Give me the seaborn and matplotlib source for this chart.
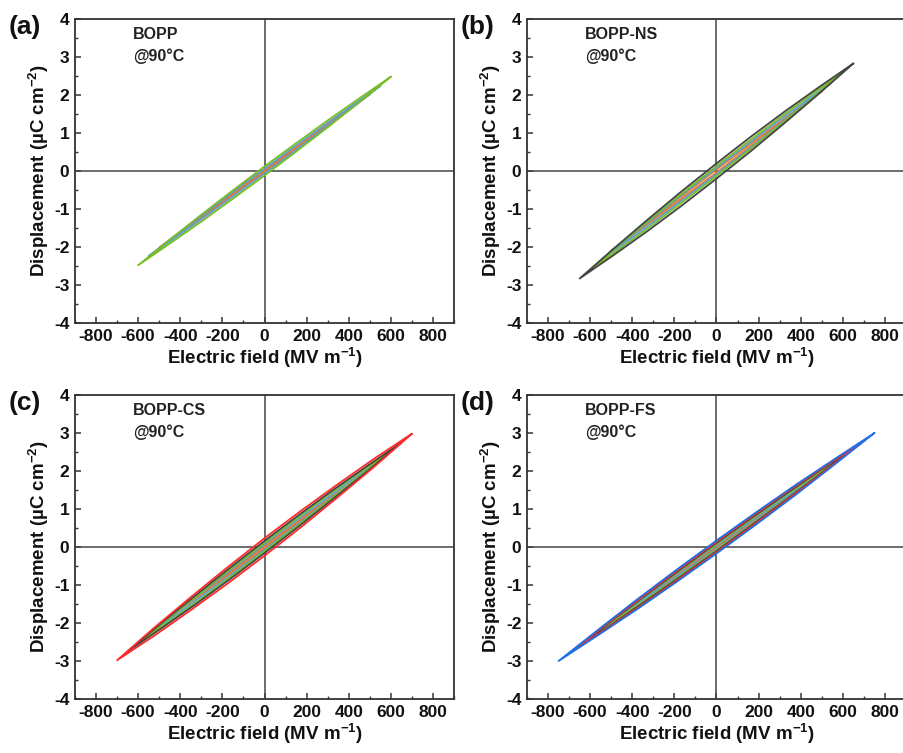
import numpy as np
import pandas as pd
import matplotlib
matplotlib.use("Agg")
import matplotlib.pyplot as plt
import seaborn as sns

# ---------------- data ----------------
# sampling positions along each loop, as fraction of the loop's max field
E_FRAC = [-1.0, -0.75, -0.5, -0.25, 0.0, 0.25, 0.5, 0.75, 1.0]

# upper branch D (uC cm^-2) at E = E_FRAC * Emax ; lower branch is point-symmetric
a_emax = [500, 550, 600]
a_colors = ["orange", "lightblue", "green"]
a_up = [
    [-2.02, -1.50, -0.99, -0.48, 0.03, 0.53, 1.03, 1.53, 2.02],
    [-2.24, -1.65, -1.08, -0.50, 0.06, 0.62, 1.17, 1.71, 2.24],
    [-2.48, -1.81, -1.15, -0.51, 0.12, 0.73, 1.33, 1.91, 2.48],
]

b_emax = [500, 550, 600, 650]
b_colors = ["orange", "lightblue", "green", "gray"]
b_up = [
    [-2.10, -1.56, -1.02, -0.49, 0.04, 0.56, 1.08, 1.59, 2.10],
    [-2.35, -1.73, -1.12, -0.51, 0.08, 0.66, 1.24, 1.80, 2.35],
    [-2.60, -1.89, -1.20, -0.53, 0.13, 0.77, 1.40, 2.01, 2.60],
    [-2.83, -2.04, -1.27, -0.52, 0.20, 0.90, 1.57, 2.21, 2.83],
]

c_emax = [500, 550, 600, 650, 700]
c_colors = ["orange", "lightblue", "green", "gray", "red"]
c_up = [
    [-2.05, -1.52, -1.00, -0.48, 0.03, 0.54, 1.05, 1.55, 2.05],
    [-2.30, -1.69, -1.10, -0.51, 0.07, 0.64, 1.20, 1.76, 2.30],
    [-2.55, -1.86, -1.19, -0.53, 0.11, 0.74, 1.36, 1.96, 2.55],
    [-2.75, -1.99, -1.26, -0.54, 0.16, 0.84, 1.50, 2.13, 2.75],
    [-2.98, -2.13, -1.32, -0.53, 0.23, 0.96, 1.66, 2.34, 2.98],
]

d_emax = [500, 550, 600, 650, 700, 750]
d_colors = ["orange", "lightblue", "green", "gray", "red", "blue"]
d_up = [
    [-1.95, -1.45, -0.96, -0.47, 0.02, 0.51, 0.99, 1.47, 1.95],
    [-2.15, -1.59, -1.04, -0.49, 0.05, 0.58, 1.11, 1.63, 2.15],
    [-2.38, -1.75, -1.13, -0.52, 0.08, 0.67, 1.25, 1.82, 2.38],
    [-2.60, -1.90, -1.22, -0.55, 0.11, 0.75, 1.38, 2.00, 2.60],
    [-2.80, -2.04, -1.30, -0.57, 0.14, 0.83, 1.51, 2.16, 2.80],
    [-3.00, -2.18, -1.37, -0.59, 0.17, 0.91, 1.63, 2.32, 3.00],
]

panel_letters = ["(a)", "(b)", "(c)", "(d)"]
sample_names = ["BOPP", "BOPP-NS", "BOPP-CS", "BOPP-FS"]
temp_label = "@90\u00b0C"
x_ticks = [-800, -600, -400, -200, 0, 200, 400, 600, 800]
y_ticks = [-4, -3, -2, -1, 0, 1, 2, 3, 4]

COLOR_MAP = {
    "orange": "#e8782a",
    "lightblue": "#5a9fd6",
    "green": "#78bd22",
    "gray": "#454545",
    "red": "#ff2a2a",
    "blue": "#1f6fe6",
}

# ---------------- style ----------------
sns.set_theme(style="ticks")
plt.rcParams["font.family"] = ["Liberation Sans", "DejaVu Sans"]
plt.rcParams["font.weight"] = "bold"
plt.rcParams["mathtext.fontset"] = "custom"
plt.rcParams["mathtext.rm"] = "Liberation Sans:bold"
plt.rcParams["mathtext.bf"] = "Liberation Sans:bold"
plt.rcParams["mathtext.default"] = "bf"
plt.rcParams["axes.unicode_minus"] = False

fig = plt.figure(figsize=(9.04, 7.53), dpi=100)
W, H = 904.0, 753.0
# axes in pixel boxes: (left, top, right, bottom)
boxes = [(75, 19, 454, 323), (527, 19, 906, 323), (75, 395, 454, 699), (527, 395, 906, 699)]

panels = [(a_emax, a_colors, a_up), (b_emax, b_colors, b_up),
          (c_emax, c_colors, c_up), (d_emax, d_colors, d_up)]

edge = "#333333"
for i, ((emax_list, col_list, up_list), box) in enumerate(zip(panels, boxes)):
    l, t, r, b = box
    ax = fig.add_axes([l / W, 1 - b / H, (r - l) / W, (b - t) / H])
    rows = []
    for k, (em, up) in enumerate(zip(emax_list, up_list)):
        pts = []
        # upper branch: field decreasing from +Emax to -Emax
        for f, dv in zip(E_FRAC[::-1], up[::-1]):
            pts.append((f * em, dv))
        # lower branch (point symmetric): field increasing from -Emax to +Emax
        for f, dv in zip(E_FRAC[1:], up[::-1][1:]):
            pts.append((f * em, -dv))
        for j, (xv, yv) in enumerate(pts):
            rows.append({"E": xv, "D": yv, "loop": f"{em}", "order": j})
    df = pd.DataFrame(rows)
    palette = {f"{em}": COLOR_MAP[c] for em, c in zip(emax_list, col_list)}
    order = [f"{em}" for em in emax_list]  # smallest loop drawn first
    ax.axhline(0, color="#444444", lw=1.1, zorder=1)
    ax.axvline(0, color="#444444", lw=1.1, zorder=1)
    sns.lineplot(data=df, x="E", y="D", hue="loop", hue_order=order, palette=palette,
                 sort=False, estimator=None, lw=1.3, legend=False, ax=ax, zorder=3)
    ax.set_xlim(-900, 900)
    ax.set_ylim(-4, 4)
    ax.set_xticks(x_ticks)
    ax.set_yticks(y_ticks)
    ax.set_xticks(np.arange(-900, 901, 100), minor=True)
    ax.set_yticks(np.arange(-4, 4.01, 0.5), minor=True)
    ax.set_xticklabels([str(v) for v in x_ticks], fontsize=12.5, fontweight="bold")
    ax.set_yticklabels([str(v) for v in y_ticks], fontsize=12.5, fontweight="bold")
    ax.tick_params(axis="both", which="major", direction="in", length=4.5, width=1.1,
                   color=edge, pad=4, top=False, right=False, labelcolor="#111111")
    ax.tick_params(axis="both", which="minor", direction="in", length=2.5, width=1.0,
                   color=edge, top=False, right=False)
    for sp in ax.spines.values():
        sp.set_linewidth(1.3)
        sp.set_color(edge)
    ax.set_xlabel("Electric field (MV m$^{-1}$)", fontsize=13.5, fontweight="bold",
                  labelpad=2, color="#111111")
    ax.set_ylabel("Displacement (\u00b5C cm$^{-2}$)", fontsize=13.5, fontweight="bold",
                  labelpad=2, color="#111111")
    ax.text(-625, 3.6, sample_names[i], fontsize=11.5, fontweight="bold", va="center",
            ha="left", color="#222222")
    ax.text(-625, 3.03, temp_label, fontsize=11.5, fontweight="bold", va="center",
            ha="left", color="#222222")
    fig.text((l - 66) / W, 1 - 27 / H - (t - 19) / H, panel_letters[i], fontsize=19,
             fontweight="bold", va="center", ha="left", color="#111111")

fig.savefig("out.png", dpi=100)
